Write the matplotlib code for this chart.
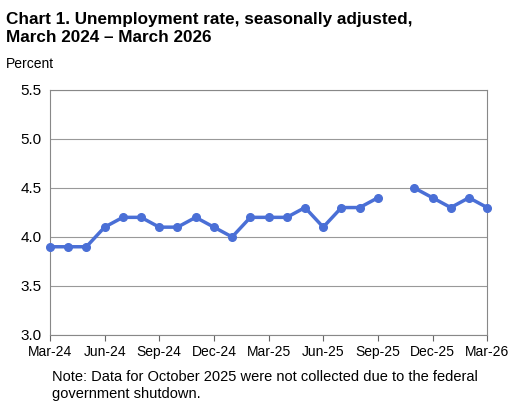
import matplotlib
matplotlib.use("Agg")
import matplotlib.pyplot as plt
import numpy as np

months = list(range(25))
rates = [3.9,3.9,3.9,4.1,4.2,4.2,4.1,4.1,4.2,4.1,4.0,4.2,4.2,4.2,4.3,4.1,4.3,4.3,4.4,np.nan,4.5,4.4,4.3,4.4,4.3]
tick_pos = [0,3,6,9,12,15,18,21,24]
tick_labels = ["Mar-24","Jun-24","Sep-24","Dec-24","Mar-25","Jun-25","Sep-25","Dec-25","Mar-26"]

plt.rcParams['font.family'] = ['Liberation Sans', 'DejaVu Sans']
fig = plt.figure(figsize=(5.15,4.07), dpi=100)
ax = fig.add_axes([0.097,0.177,0.849,0.602])
ax.plot(months, rates, color='#4a6fd6', lw=2.5, marker='o', ms=5.5, clip_on=False, zorder=3)
ax.set_xlim(0,24); ax.set_ylim(3.0,5.5)
ax.set_yticks(np.arange(3.0,5.51,0.5))
ax.set_yticklabels([f"{v:.1f}" for v in np.arange(3.0,5.51,0.5)], fontsize=11)
ax.set_xticks(tick_pos); ax.set_xticklabels(tick_labels, fontsize=10)
ax.grid(axis='y', color='#999999', lw=0.8)
ax.set_axisbelow(True)
ax.tick_params(axis='y', length=0, pad=6)
ax.tick_params(axis='x', length=4, color='#666666')
for s in ax.spines.values(): s.set_color('#888888')
fig.text(0.012,0.97,"Chart 1. Unemployment rate, seasonally adjusted,\nMarch 2024 – March 2026", fontsize=12.3, fontweight='bold', va='top', linespacing=1.2)
fig.text(0.012,0.86,"Percent", fontsize=10, va='top')
fig.text(0.10,0.09,"Note: Data for October 2025 were not collected due to the federal\ngovernment shutdown.", fontsize=10.5, va='top', linespacing=1.2)
fig.savefig("out.png", dpi=100)
